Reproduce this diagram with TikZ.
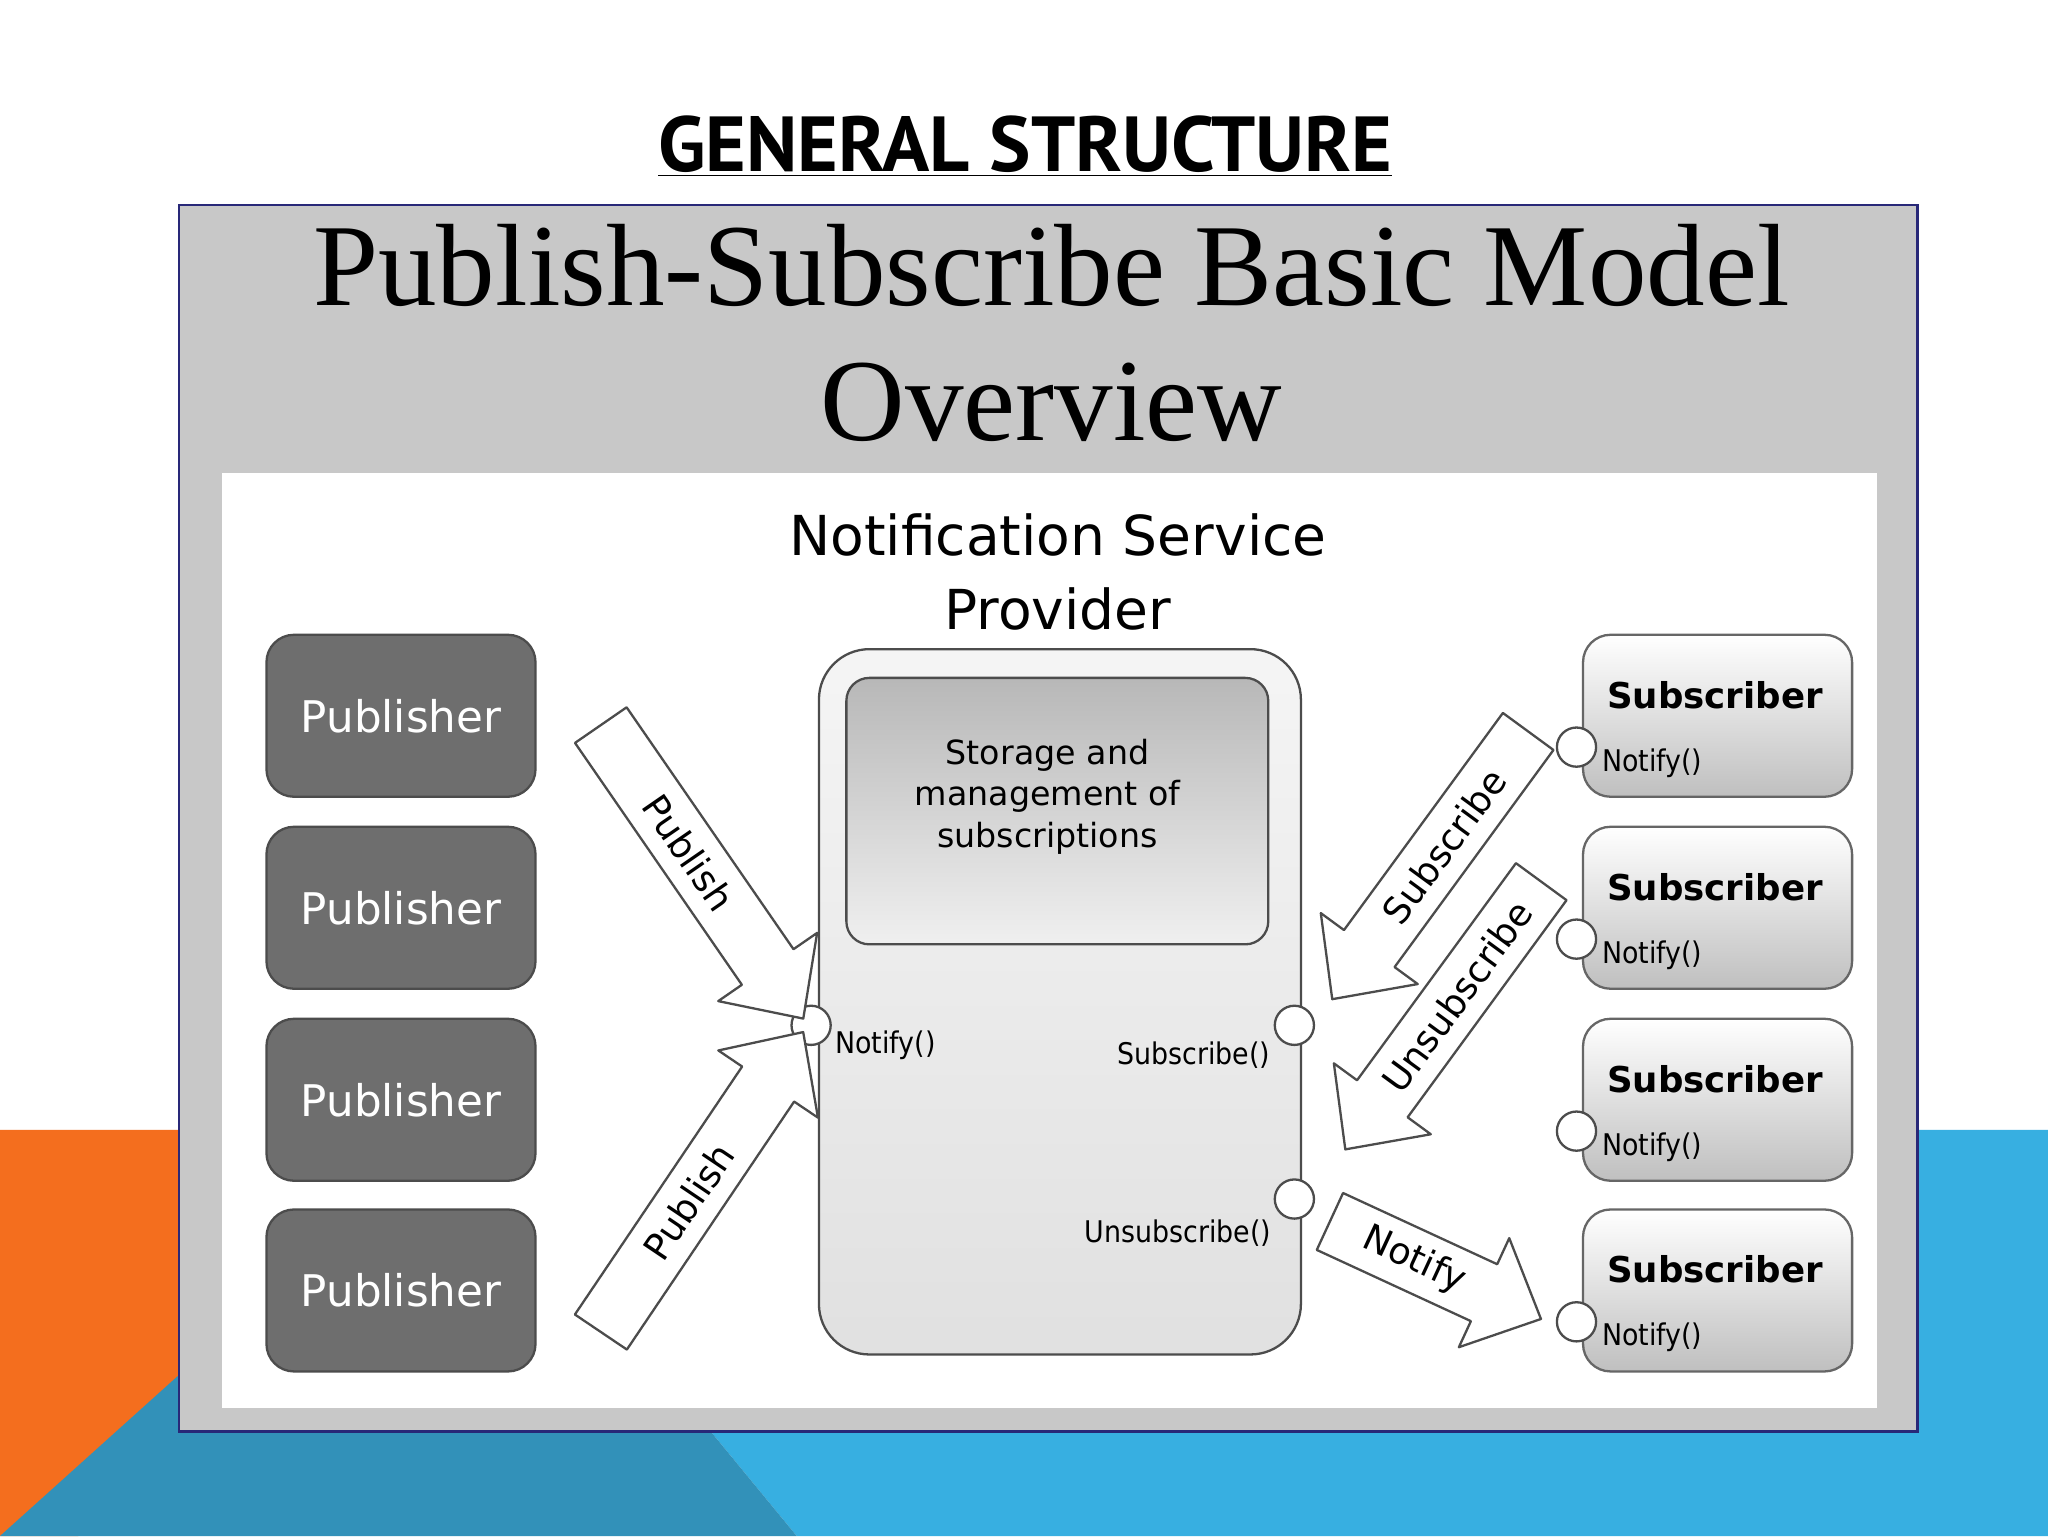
\documentclass[tikz,border=0pt]{standalone}
\usepackage{fontspec}
\setmainfont{DejaVu Sans}
\newfontfamily\titlefont{PT Sans}
\newfontfamily\serifttl{Liberation Serif}
\newfontfamily\condfont{DejaVu Sans Condensed}
\definecolor{frameblue}{RGB}{40,40,120}
\definecolor{panelgrey}{RGB}{200,200,200}
\definecolor{pubgrey}{RGB}{110,110,110}
\definecolor{orng}{RGB}{244,110,30}
\definecolor{skyb}{RGB}{55,175,225}
\definecolor{teal}{RGB}{50,145,185}
% #1 name, #2 centre, #3 arrow angle, #4 length, #5 text angle, #6 text
\newcommand\hollowarrow[6]{
  \begin{scope}[shift={#2},rotate=#3]
    \draw[black!70,fill=white,line width=1pt,line join=round]
      (-#4/2,-24) -- (#4/2-48,-24) -- (#4/2-48,-46) -- (#4/2,0)
      -- (#4/2-48,46) -- (#4/2-48,24) -- (-#4/2,24) -- cycle;
    \node[rotate=#5,font=\fontsize{16}{18}\selectfont] (#1) at (-18,0) {#6};
  \end{scope}
}
\begin{document}
\begin{tikzpicture}
  [x=0.2mm,y=-0.2mm,
   pub/.style={draw=black!70,line width=1pt,fill=pubgrey,rounded corners=12pt,minimum width=41.2mm,minimum height=24.8mm,text=white,font=\fontsize{19}{22}\selectfont},
   sub/.style={draw=black!60,line width=1pt,top color=white,bottom color=black!25,rounded corners=12pt,minimum width=41.2mm,minimum height=24.8mm},
   port/.style={circle,draw=black!70,fill=white,line width=1pt,minimum size=6mm,inner sep=0pt},
   small/.style={font=\condfont\fontsize{13}{15}\selectfont}]
  \useasboundingbox (0,0) rectangle (1568,1176);
  % background
  \fill[white] (0,0) rectangle (1568,1176);
  \fill[orng] (0,865) -- (140,865) -- (140,1097) -- (60,1176) -- (0,1176) -- cycle;
  \fill[skyb] (1468,865) -- (1568,865) -- (1568,1176) -- (610,1176) -- (545,1097) -- (1468,1097) -- cycle;
  \fill[teal] (0,1176) -- (140,1050) -- (140,1097) -- (545,1097) -- (610,1176) -- cycle;
  \node (title) at (785,112) {\titlefont\bfseries\fontsize{34}{40}\selectfont\underline{GENERAL STRUCTURE}};
  % panel
  \draw[frameblue,fill=panelgrey,line width=1.2pt] (137,157) rectangle (1468,1096);
  \fill[white] (170,362) rectangle (1437,1078);
  \node (head1) at (805,203) {\serifttl\fontsize{51}{56}\selectfont Publish-Subscribe Basic Model};
  \node (head2) at (805,308) {\serifttl\fontsize{51}{56}\selectfont Overview};
  \node[align=center,font=\fontsize{24}{32}\selectfont] (nsp) at (810,438) {Notification Service\\Provider};

  % provider
  \node[draw=black!70,line width=1pt,top color=black!4,bottom color=black!12,rounded corners=22pt,minimum width=73.8mm,minimum height=108mm] (prov) at (811.5,767) {};
  \node[draw=black!70,line width=1pt,top color=black!28,bottom color=black!6,rounded corners=10pt,minimum width=64.6mm,minimum height=40.8mm] (store) at (809.5,621) {};
  \node[align=center,font=\fontsize{14.5}{18}\selectfont] (storetxt) at (802,610) {Storage and\\management of\\subscriptions};
  \node[port] (pn) at (621,785) {};
  \node[port] (ps) at (991,785) {};
  \node[port] (pu) at (991,918) {};
  \node[small] (ln) at (678,800) {Notify()};
  \node[small] (ls) at (914,808) {Subscribe()};
  \node[small] (lu) at (902,944) {Unsubscribe()};

  % publishers
  \node[pub] (p1) at (307,548) {Publisher};
  \node[pub] (p2) at (307,695) {Publisher};
  \node[pub] (p3) at (307,842) {Publisher};
  \node[pub] (p4) at (307,988) {Publisher};

  % subscribers
  \foreach \n/\y in {1/548,2/695,3/842,4/988}{
    \node[sub] (s\n) at (1315,\y) {};
    \node[font=\bfseries\fontsize{15.5}{18}\selectfont] (st\n) at (1313,\y-16) {Subscriber};
    \node[port] (sp\n) at (1207,\y+24) {};
    \node[small] (sn\n) at (1265,\y+36) {Notify()};
  }

  % arrows
  \hollowarrow{a1}{(537.5,667.5)}{-55.4}{273}{-55.4}{Publish}
  \hollowarrow{a2}{(537.5,905)}{56}{277}{56}{Publish}
  \hollowarrow{a3}{(1095,662.5)}{233.8}{254}{53.8}{Subscribe}
  \hollowarrow{a4}{(1105,777.5)}{233.8}{254}{53.8}{Unsubscribe}
  \hollowarrow{a5}{(1099,972.5)}{-24.8}{178}{-24.8}{Notify}
\end{tikzpicture}
\end{document}
